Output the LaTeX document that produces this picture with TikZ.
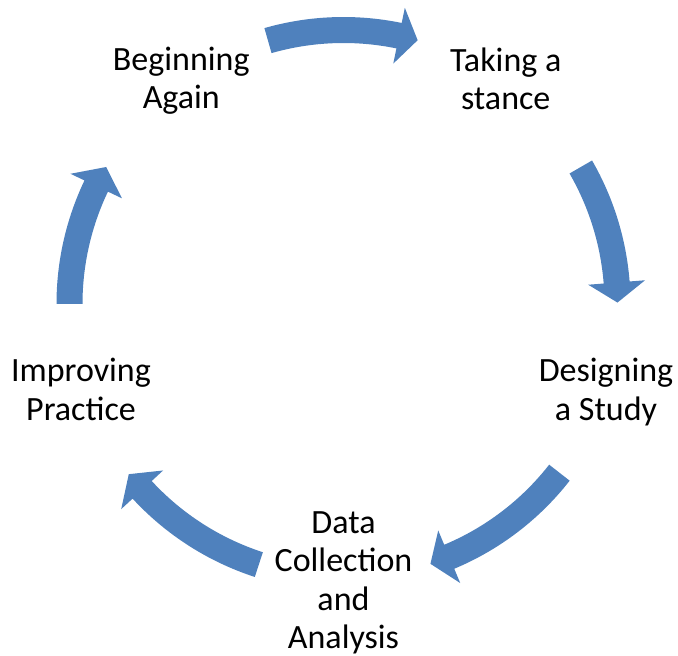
\documentclass[tikz,border=0pt]{standalone}
\usepackage{fontspec}
\setmainfont{Carlito}
\definecolor{cycleblue}{HTML}{4F81BD}

% curved block arrow: tail angle, head base angle, tip angle
\newcommand{\cyclearrow}[3]{%
  \fill[cycleblue] (#1:261) arc[start angle=#1,end angle=#2,radius=261]
    -- (#2:245.5) -- (#3:274) -- (#2:302.5) -- (#2:287)
    arc[start angle=#2,end angle=#1,radius=287] -- cycle;}

\begin{document}
\begin{tikzpicture}[x=1pt,y=1pt,
  stage/.style={align=center,inner sep=0pt,font={\fontsize{34}{38.5}\selectfont}}]
\useasboundingbox (0,0) rectangle (678,656);
\coordinate (C) at (343.5,352);
\begin{scope}[shift={(C)}]
\node[stage] (again) at (126:276) {Beginning\\Again};
\node[stage,yshift=2] (stance) at (54:276) {Taking a\\stance};
\node[stage,yshift=-3] (design) at (-18:276) {Designing\\a Study};
\node[stage,yshift=-3] (data) at (-90:276) {Data\\Collection\\and\\Analysis};
\node[stage] (improve) at (198:276) {Improving\\Practice};
% arrows between the stages, clockwise
\cyclearrow{106}{78.3}{74.3}
\cyclearrow{30}{4.5}{0.3}
\cyclearrow{-38}{-67.3}{-71.5}
\cyclearrow{-108}{-137.3}{-141.6}
\cyclearrow{180}{154.5}{150}
\end{scope}
\end{tikzpicture}
\end{document}
